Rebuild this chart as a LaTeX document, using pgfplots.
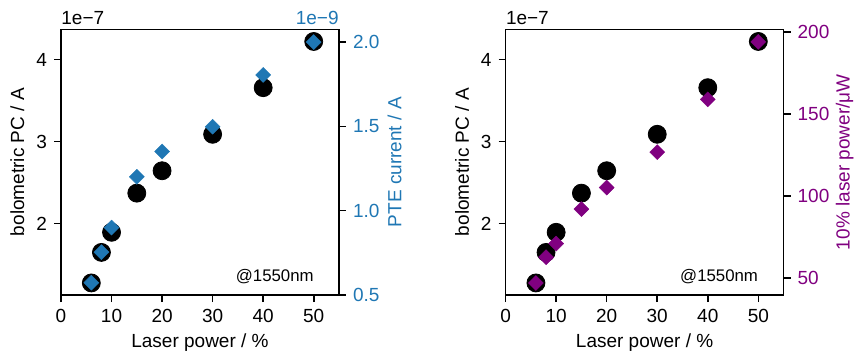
\documentclass[border=0pt]{standalone}
\usepackage{fontspec}
\setmainfont{Liberation Sans}
\usepackage{pgfplots}
\pgfplotsset{compat=1.18}
\definecolor{mblue}{HTML}{1F77B4}
\definecolor{mpurple}{HTML}{800080}
\pgfplotsset{
  base/.style={
    scale only axis, width=139pt, height=132.8pt,
    xmin=0, xmax=55,
    font=\fontsize{9.5}{11}\selectfont,
    /pgf/number format/assume math mode=true,
    tick align=outside, major tick length=3.5pt,
    every tick/.style={black, line width=0.8pt},
    axis line style={line width=0.8pt},
    clip=false,
  },
  leftax/.style={base,
    ymin=1.131, ymax=4.367,
    xtick={0,10,20,30,40,50}, ytick={2,3,4},
    xtick pos=bottom, ytick pos=left,
    xlabel={Laser power / \%},
    ylabel={bolometric PC / A},
    xlabel style={at={(rel axis cs:0.5,0)}, anchor=center, yshift=-24pt},
    ylabel style={at={(rel axis cs:0,0.5)}, anchor=center, yshift=21.8pt},
  },
  rightax/.style={base,
    axis x line=none, axis y line*=right, axis line style={-, line width=0.8pt},
    ytick pos=right,
  },
}
\begin{document}
\begin{tikzpicture}
\useasboundingbox (0,0) rectangle (427.5pt,177pt);
% ---------- left panel ----------
\begin{axis}[leftax, at={(30.5pt,29.5pt)}, anchor=south west]
\addplot[only marks, mark=*, mark size=4.5pt, black] coordinates {
 (6,1.278) (8,1.650) (10,1.895) (15,2.372) (20,2.645) (30,3.089) (40,3.657) (50,4.220)};
\node[anchor=base west, inner sep=0pt, font=\fontsize{9.5}{11}\selectfont] at (rel axis cs:0,1) [yshift=2.5pt] {1e−7};
\node[font=\fontsize{8.4}{10}\selectfont] at (rel axis cs:0.769,0.068) {@1550nm};
\end{axis}
\begin{axis}[rightax, at={(30.5pt,29.5pt)}, anchor=south west,
  ymin=0.5, ymax=2.075, ytick={0.5,1.0,1.5,2.0},
  yticklabel style={text=mblue, /pgf/number format/.cd, fixed, fixed zerofill, precision=1},
  ylabel={PTE current / A},
  ylabel style={text=mblue, at={(rel axis cs:1,0.5)}, anchor=center, yshift=-27.8pt}]
\addplot[only marks, mark=square*, mark size=2.65pt, mark options={rotate=45, fill=mblue, draw=mblue, line width=0.2pt}] coordinates {
 (6,0.573) (8,0.754) (10,0.900) (15,1.201) (20,1.351) (30,1.498) (40,1.805) (50,2.000)};
\node[anchor=base east, inner sep=0pt, text=mblue, font=\fontsize{9.5}{11}\selectfont] at (rel axis cs:1,1) [yshift=2.5pt] {1e−9};
\end{axis}
% ---------- right panel ----------
\begin{axis}[leftax, at={(252.8pt,29.5pt)}, anchor=south west]
\addplot[only marks, mark=*, mark size=4.5pt, black] coordinates {
 (6,1.278) (8,1.650) (10,1.895) (15,2.372) (20,2.645) (30,3.089) (40,3.657) (50,4.220)};
\node[anchor=base west, inner sep=0pt, font=\fontsize{9.5}{11}\selectfont] at (rel axis cs:0,1) [yshift=2.5pt] {1e−7};
\node[font=\fontsize{8.4}{10}\selectfont] at (rel axis cs:0.768,0.068) {@1550nm};
\end{axis}
\begin{axis}[rightax, at={(252.8pt,29.5pt)}, anchor=south west,
  ymin=39.8, ymax=201.5, ytick={50,100,150,200},
  yticklabel style={text=mpurple},
  ylabel={10\% laser power/μW},
  ylabel style={text=mpurple, at={(rel axis cs:1,0.5)}, anchor=center, yshift=-30.6pt}]
\addplot[only marks, mark=square*, mark size=2.65pt, mark options={rotate=45, fill=mpurple, draw=mpurple, line width=0.2pt}] coordinates {
 (6,47.1) (8,62.8) (10,71.1) (15,92.1) (20,105.2) (30,126.8) (40,158.9) (50,193.9)};
\end{axis}
\end{tikzpicture}
\end{document}
